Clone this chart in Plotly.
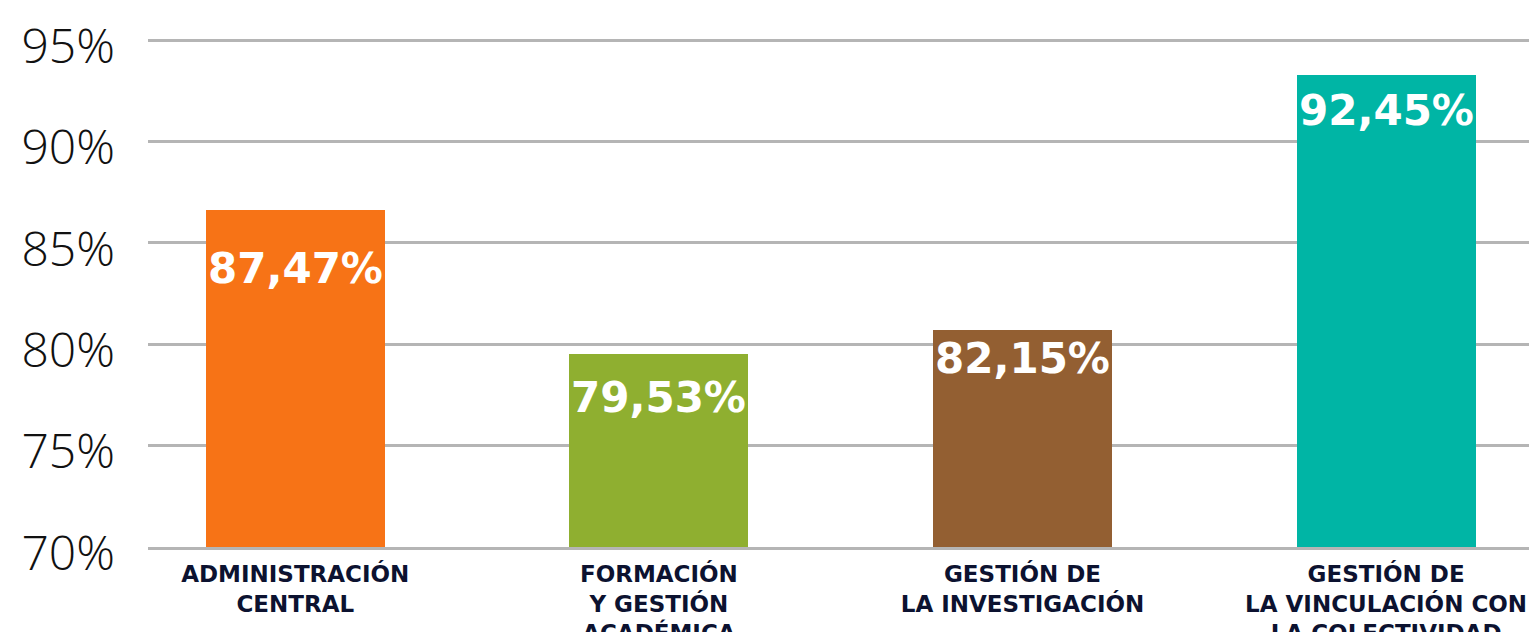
import plotly.graph_objects as go

# categories (line breaks as in the original labels)
categories = [
    "ADMINISTRACIÓN<br>CENTRAL",
    "FORMACIÓN<br>Y GESTIÓN<br>ACADÉMICA",
    "GESTIÓN DE<br>LA INVESTIGACIÓN",
    "GESTIÓN DE<br>LA VINCULACIÓN CON<br>LA COLECTIVIDAD",
]
# bar heights as drawn in the picture (%)
bar_heights = [86.6, 79.5, 80.7, 93.3]
# printed value labels
value_labels = ["87,47%", "79,53%", "82,15%", "92,45%"]
y_ticks = [70, 75, 80, 85, 90, 95]
y_tick_labels = ["70%", "75%", "80%", "85%", "90%", "95%"]

colors = ["#F77316", "#8FAF30", "#935F32", "#00B5A5"]
label_shift = [-58, -43, -28, -36]

fig = go.Figure(
    go.Bar(
        x=categories,
        y=bar_heights,
        marker_color=colors,
        marker_line_width=0,
        width=0.492,
        hoverinfo="skip",
    )
)

for cat, h, txt, dy in zip(categories, bar_heights, value_labels, label_shift):
    fig.add_annotation(
        x=cat,
        y=h,
        text=f"<b>{txt}</b>",
        showarrow=False,
        yanchor="middle",
        yshift=dy,
        font={"family": "DejaVu Sans", "size": 42, "color": "#ffffff"},
    )

# the page body adds an 8px offset, so the figure is sized 8px smaller
fig.update_layout(
    width=1529,
    height=624,
    paper_bgcolor="#ffffff",
    plot_bgcolor="#ffffff",
    showlegend=False,
    margin={"l": 140, "r": 0, "t": 30, "b": 85},
    bargap=0,
)

fig.update_xaxes(
    range=[-0.405, 3.415],
    automargin=False,
    showgrid=False,
    zeroline=False,
    showline=True,
    linecolor="#b5b5b5",
    linewidth=3,
    ticks="",
    ticklabelstandoff=4,
    tickfont={"family": "DejaVu Sans", "size": 23, "color": "#0c1230", "weight": "bold"},
)

fig.update_yaxes(
    range=[70, 95.1],
    automargin=False,
    tickvals=y_ticks,
    ticktext=y_tick_labels,
    showgrid=True,
    gridcolor="#b5b5b5",
    gridwidth=3,
    zeroline=False,
    ticks="",
    ticklabelstandoff=32,
    ticklabelshift=6,
    tickfont={"family": "Open Sans", "size": 48, "color": "#111111", "weight": 300},
)

fig.write_html("out.html")
